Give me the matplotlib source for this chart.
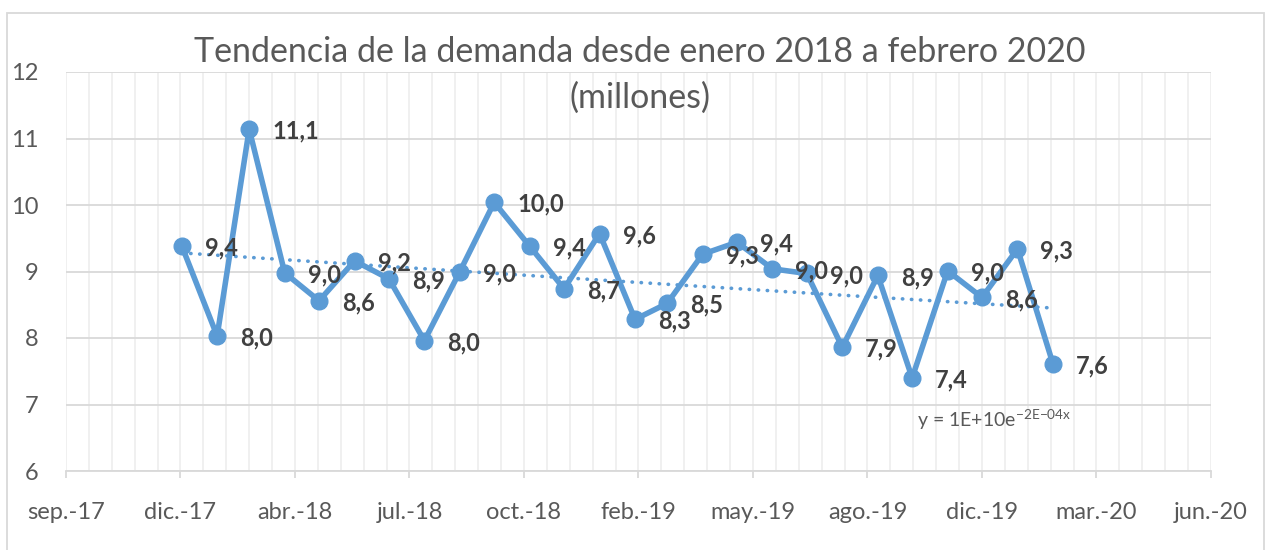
import numpy as np
import pandas as pd
import matplotlib
matplotlib.use("Agg")
import matplotlib.pyplot as plt
import matplotlib.dates as mdates
from matplotlib.ticker import FuncFormatter
from matplotlib.patches import Rectangle

plt.rcParams['font.family'] = 'Lato'

# datos: demanda mensual (millones)
fechas = pd.date_range('2018-01-01', '2020-02-01', freq='MS')
demanda = [9.39, 8.03, 11.14, 8.98, 8.56, 9.16, 8.89, 7.96, 9.00, 10.04,
           9.38, 8.74, 9.57, 8.28, 8.52, 9.26, 9.44, 9.04, 8.97, 7.86,
           8.94, 7.40, 9.01, 8.61, 9.34, 7.61]
meses = ['ene.', 'feb.', 'mar.', 'abr.', 'may.', 'jun.',
         'jul.', 'ago.', 'sep.', 'oct.', 'nov.', 'dic.']
titulo = 'Tendencia de la demanda desde enero 2018 a febrero 2020'
subtitulo = '(millones)'
ecuacion = r'y = 1E+10e$^{\mathregular{{-}2E{-}04x}}$'

azul = '#5B9BD5'
gris = '#595959'

fig = plt.figure(figsize=(12.72, 5.5), dpi=100)
ax = fig.add_axes([66/1272, 1-471/550, 1145/1272, 399/550])

x = mdates.date2num(fechas)

# linea de tendencia exponencial
a, b = np.polyfit(x, np.log(demanda), 1)
tend = np.exp(b) * np.exp(a * x)
ax.plot(fechas, tend, color=azul, lw=2.6, dashes=(0.1, 2.4),
        dash_capstyle='round', zorder=2)

ax.plot(fechas, demanda, color=azul, lw=4, marker='o', ms=12, zorder=3)

for xi, yi in zip(fechas, demanda):
    ax.annotate(f"{yi:.1f}".replace('.', ','), (xi, yi), xytext=(23, -2),
                textcoords='offset pixels', ha='left', va='center',
                fontsize=17, fontweight='bold', color='#404040', zorder=4)

# eje x: cada 100 dias desde 22-sep-2017
x0 = mdates.date2num(pd.Timestamp('2017-09-22'))
ax.set_xlim(x0, x0 + 1000)
ax.set_xticks(np.arange(x0, x0 + 1001, 100))
ax.set_xticks(np.arange(x0, x0 + 1001, 20), minor=True)

def fmt(v, pos):
    d = mdates.num2date(v)
    return f"{meses[d.month - 1]}-{d.year % 100:02d}"

ax.xaxis.set_major_formatter(FuncFormatter(fmt))
ax.set_ylim(6, 12)
ax.set_yticks(range(6, 13))

ax.grid(axis='x', which='both', color='#EFEFEF', lw=1.3)
ax.grid(axis='y', which='major', color='#D9D9D9', lw=1.3)
ax.set_axisbelow(True)

for s in ['left', 'right', 'top']:
    ax.spines[s].set_visible(False)
ax.spines['bottom'].set_color('#D9D9D9')
ax.spines['bottom'].set_linewidth(1.3)

ax.tick_params(axis='x', which='major', length=5, width=1.3, color='#D9D9D9',
               pad=17, labelsize=17, labelcolor=gris)
ax.tick_params(axis='x', which='minor', length=0)
ax.tick_params(axis='y', length=0, pad=20, labelsize=17, labelcolor=gris)

ax.text(0.743, 0.128, ecuacion, transform=ax.transAxes, ha='left',
        va='center', fontsize=14, color=gris)

fig.text(640/1272, 1-52/550, titulo, ha='center', va='center',
         fontsize=24.5, color=gris)
fig.text(640/1272, 1-98/550, subtitulo, ha='center', va='center',
         fontsize=24.5, color=gris)

fig.patches.append(Rectangle((7/1272, -0.02), 1257/1272, 1.02-13/550,
                             transform=fig.transFigure, fill=False,
                             edgecolor='#D9D9D9', lw=1.3))

fig.savefig('out.png', dpi=100)
